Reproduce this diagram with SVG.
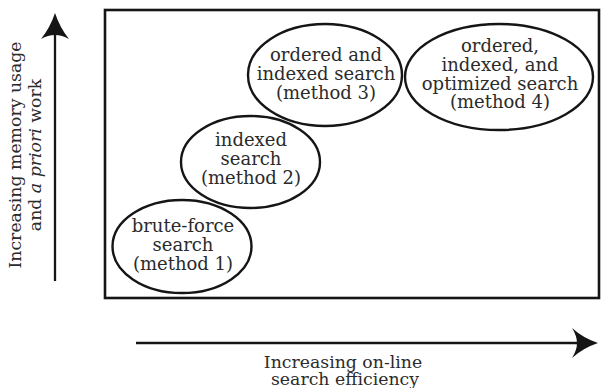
<svg xmlns="http://www.w3.org/2000/svg" width="601" height="388" viewBox="0 0 601 388">
<style>
.t{font-family:"DejaVu Serif","Liberation Serif",serif;font-size:18px;fill:#2b2b2b;text-anchor:middle}
.ax{font-size:17.3px}
.e{fill:none;stroke:#151515;stroke-width:2.4}
.ln{fill:none;stroke:#151515;stroke-width:2.3}
.hd{fill:#151515;stroke:none}
</style>
<rect x="105" y="10" width="494" height="288" fill="none" stroke="#151515" stroke-width="2.6"/>
<g id="connectors">
<line class="ln" x1="55" y1="281" x2="55" y2="30"/>
<path class="hd" d="M55 13 Q60 28 69 39 Q62 35 55 35 Q48 35 41 39 Q50 28 55 13 Z"/>
<line class="ln" x1="136" y1="343" x2="580" y2="343"/>
<path class="hd" d="M598 343 Q583 348 572 358 Q577 350 577 343 Q577 336 572 328 Q583 338 598 343 Z"/>
</g>
<g id="yLabel">
<text class="t ax" transform="translate(21,155) rotate(-90)">Increasing memory usage</text>
<text class="t ax" transform="translate(41,155) rotate(-90)">and <tspan font-style="italic">a priori</tspan> work</text>
</g>
<g id="xLabel">
<text class="t ax" x="343" y="368">Increasing on-line</text>
<text class="t ax" x="345" y="384.5">search efficiency</text>
</g>
<g id="method1">
<ellipse class="e" cx="182" cy="246.5" rx="69.5" ry="46.5"/>
<text class="t" x="183" y="232">brute-force</text>
<text class="t" x="183" y="251">search</text>
<text class="t" x="183" y="269.5">(method 1)</text>
</g>
<g id="method2">
<ellipse class="e" cx="250.5" cy="162" rx="69.5" ry="46"/>
<text class="t" x="251" y="146">indexed</text>
<text class="t" x="251" y="165">search</text>
<text class="t" x="251" y="183.5">(method 2)</text>
</g>
<g id="method3">
<ellipse class="e" cx="325" cy="75" rx="77" ry="51"/>
<text class="t" x="326" y="61">ordered and</text>
<text class="t" x="326" y="80">indexed search</text>
<text class="t" x="326" y="99">(method 3)</text>
</g>
<g id="method4">
<ellipse class="e" cx="499" cy="77" rx="94" ry="53"/>
<text class="t" x="500" y="52">ordered,</text>
<text class="t" x="500" y="71">indexed, and</text>
<text class="t" x="500" y="89.5">optimized search</text>
<text class="t" x="500" y="108">(method 4)</text>
</g>
</svg>
